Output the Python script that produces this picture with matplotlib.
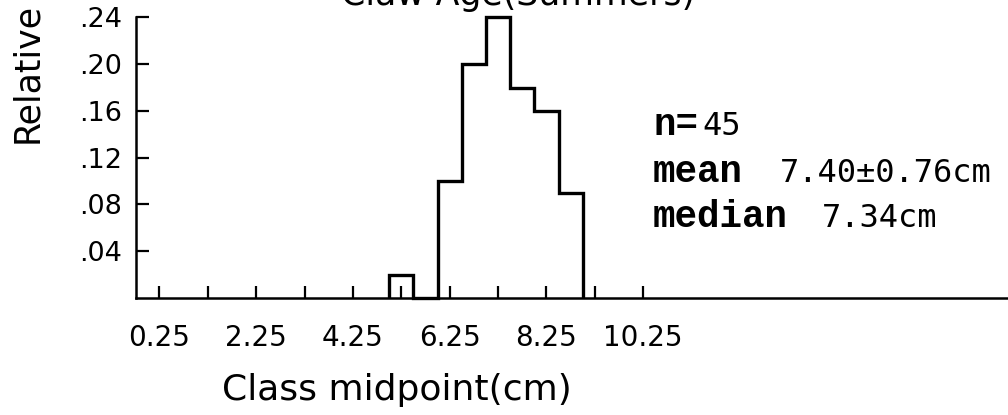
import matplotlib
matplotlib.use("Agg")
import matplotlib.pyplot as plt

# ---- data ----
bin_edges = [5.0, 5.5, 6.0, 6.5, 7.0, 7.5, 8.0, 8.5, 9.0]
rel_freq = [0.02, 0.0, 0.10, 0.20, 0.24, 0.179, 0.16, 0.09]
x_ticks = [0.25, 1.25, 2.25, 3.25, 4.25, 5.25, 6.25, 7.25, 8.25, 9.25, 10.25]
x_ticklabels = ["0.25", "", "2.25", "", "4.25", "", "6.25", "", "8.25", "", "10.25"]
y_ticks = [0.04, 0.08, 0.12, 0.16, 0.20, 0.24]
y_ticklabels = [".04", ".08", ".12", ".16", ".20", ".24"]
title_text = "Claw Age(Summers)"
x_label = "Class midpoint(cm)"
y_label = "Relative"
n_text = "45"
mean_text = "7.40\u00b10.76cm"
median_text = "7.34cm"

W, H = 1008, 415
fig = plt.figure(figsize=(W / 100, H / 100), dpi=100)
fig.patch.set_facecolor("white")


def fx(px):
    return px / W


def fy(py):
    return 1 - py / H


ax = fig.add_axes([fx(136), fy(298), 1 - fx(136), (298 - 17) / H])
ax.set_xlim(-0.234, 17.79)
ax.set_ylim(0, 0.24)

ax.stairs(rel_freq, bin_edges, baseline=0, fill=False, color="black",
          linewidth=2.4, clip_on=False, zorder=3)

for s in ["top", "right"]:
    ax.spines[s].set_visible(False)
for s in ["left", "bottom"]:
    ax.spines[s].set_linewidth(1.8)
    ax.spines[s].set_color("black")

ax.set_xticks(x_ticks)
ax.set_xticklabels(x_ticklabels, fontsize=20, family="DejaVu Sans")
ax.set_yticks(y_ticks)
ax.set_yticklabels(y_ticklabels, fontsize=19.5, family="DejaVu Sans")
ax.tick_params(axis="x", direction="in", length=9, width=1.6, pad=19)
ax.tick_params(axis="y", direction="in", length=9, width=1.6, pad=10)

# axis labels and cropped title
fig.text(fx(396.5), fy(400), x_label, ha="center", va="baseline",
         fontsize=26, family="DejaVu Sans")
fig.text(fx(27.5), fy(143), y_label, ha="center", va="bottom", rotation=90,
         fontsize=25, family="DejaVu Sans")
fig.text(fx(518), fy(5), title_text, ha="center", va="baseline",
         fontsize=25, family="DejaVu Sans")

# statistics annotation
mono = dict(family="Liberation Mono", weight="bold", fontsize=27)
sans = dict(family="DejaVu Sans Mono", fontsize=23)
fig.text(fx(653), fy(135), "n=", ha="left", va="baseline", **mono)
fig.text(fx(702), fy(135), n_text, ha="left", va="baseline", **sans)
fig.text(fx(653), fy(182), "mean", ha="left", va="baseline", **mono)
fig.text(fx(780), fy(182), mean_text, ha="left", va="baseline", **sans)
fig.text(fx(653), fy(227), "median", ha="left", va="baseline", **mono)
fig.text(fx(822), fy(227), median_text, ha="left", va="baseline", **sans)

fig.savefig("out.png", dpi=100, facecolor="white")
